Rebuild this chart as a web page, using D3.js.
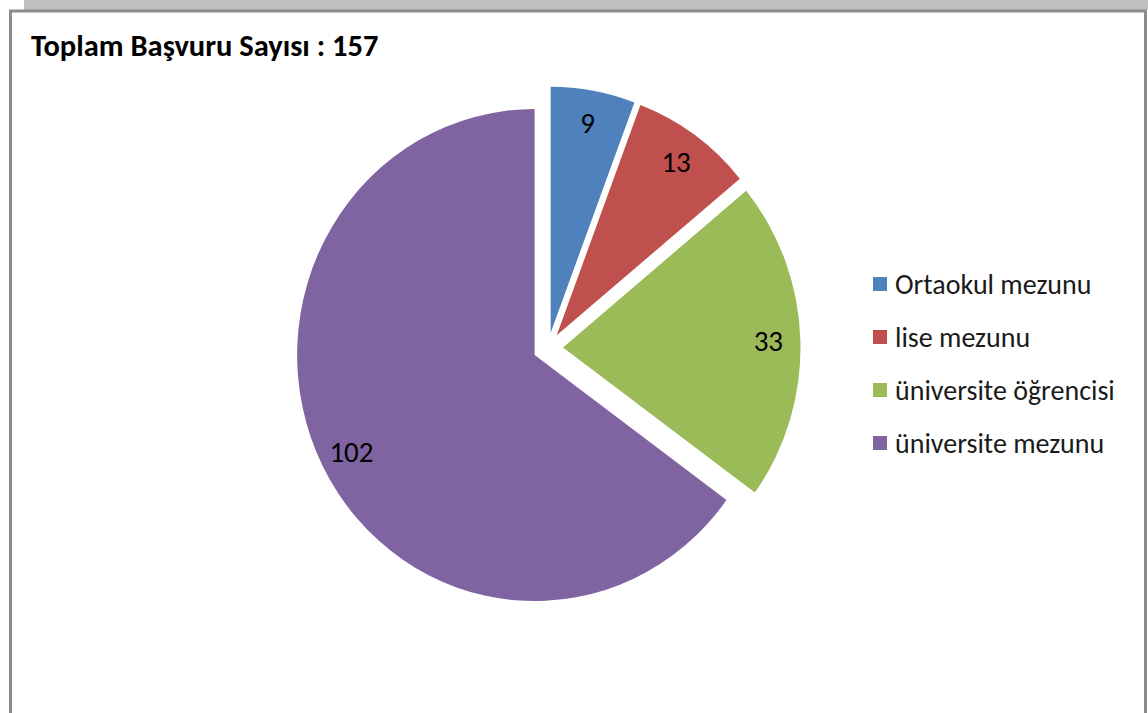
<!DOCTYPE html>
<html>
<head>
<meta charset="utf-8">
<script src="https://cdn.jsdelivr.net/npm/d3@7"></script>
<style>
  body { margin: 0; background: #fff; }
  svg { display: block; font-family: Carlito, Lato, "Open Sans", sans-serif; }
</style>
</head>
<body>
<div class="graph"></div>
<script>
const categories = ['Ortaokul mezunu', 'lise mezunu', 'üniversite öğrencisi', 'üniversite mezunu'];
const values = [9, 13, 33, 102];
const colors = ['#4F81BD', '#C0504D', '#9BBB59', '#8064A2'];
const title = 'Toplam Başvuru Sayısı : 157';

const width = 1148, height = 713;

const svg = d3.select('.graph')
    .append('svg')
    .attr('width', width)
    .attr('height', height);

// frame
svg.append('rect')
    .attr('x', 24).attr('y', 0)
    .attr('width', width - 24).attr('height', 10)
    .attr('fill', '#bfbfbf');
svg.append('rect')
    .attr('x', 10.5).attr('y', 11)
    .attr('width', 1135).attr('height', 740)
    .attr('fill', '#fff')
    .attr('stroke', '#8c8c8c')
    .attr('stroke-width', 3);

svg.append('text')
    .attr('x', 31)
    .attr('y', 56)
    .style('font-size', '30.5px')
    .style('font-weight', 'bold')
    .attr('fill', '#000')
    .text(title);

// pie
const cx = 548, cy = 348, r = 237.5, sy = 1.036, explode = 15;
const data = categories.map((c, i) => ({ name: c, value: values[i], color: colors[i] }));
const pie = d3.pie().sort(null).value(d => d.value);
const arc = d3.arc().innerRadius(0).outerRadius(r);
const arcs = pie(data);

const chart = svg.append('g')
    .attr('transform', `translate(${cx},${cy}) scale(1,${sy})`);

const mid = d => (d.startAngle + d.endAngle) / 2;

chart.selectAll('path')
    .data(arcs)
    .enter()
    .append('path')
    .attr('d', arc)
    .attr('transform', d => `translate(${Math.sin(mid(d)) * explode},${-Math.cos(mid(d)) * explode})`)
    .attr('fill', d => d.data.color);

const labelR = 0.865 * r + explode;
svg.selectAll('.slice-label')
    .data(arcs)
    .enter()
    .append('text')
    .classed('slice-label', true)
    .attr('x', d => cx + Math.sin(mid(d)) * labelR)
    .attr('y', d => cy - Math.cos(mid(d)) * labelR * sy)
    .attr('dy', '0.35em')
    .style('text-anchor', 'middle')
    .style('font-size', '29px')
    .attr('fill', '#000')
    .text(d => d.data.value);

// legend
const legend = svg.append('g')
    .attr('transform', 'translate(873,284)');
const item = legend.selectAll('g')
    .data(data)
    .enter()
    .append('g')
    .attr('transform', (d, i) => `translate(0,${i * 53})`);
item.append('rect')
    .attr('x', 0).attr('y', -7)
    .attr('width', 14).attr('height', 14)
    .attr('fill', d => d.color);
item.append('text')
    .attr('x', 22)
    .attr('dy', '0.35em')
    .style('font-size', '28px')
    .attr('fill', '#1a1a1a')
    .text(d => d.name);
</script>
</body>
</html>
